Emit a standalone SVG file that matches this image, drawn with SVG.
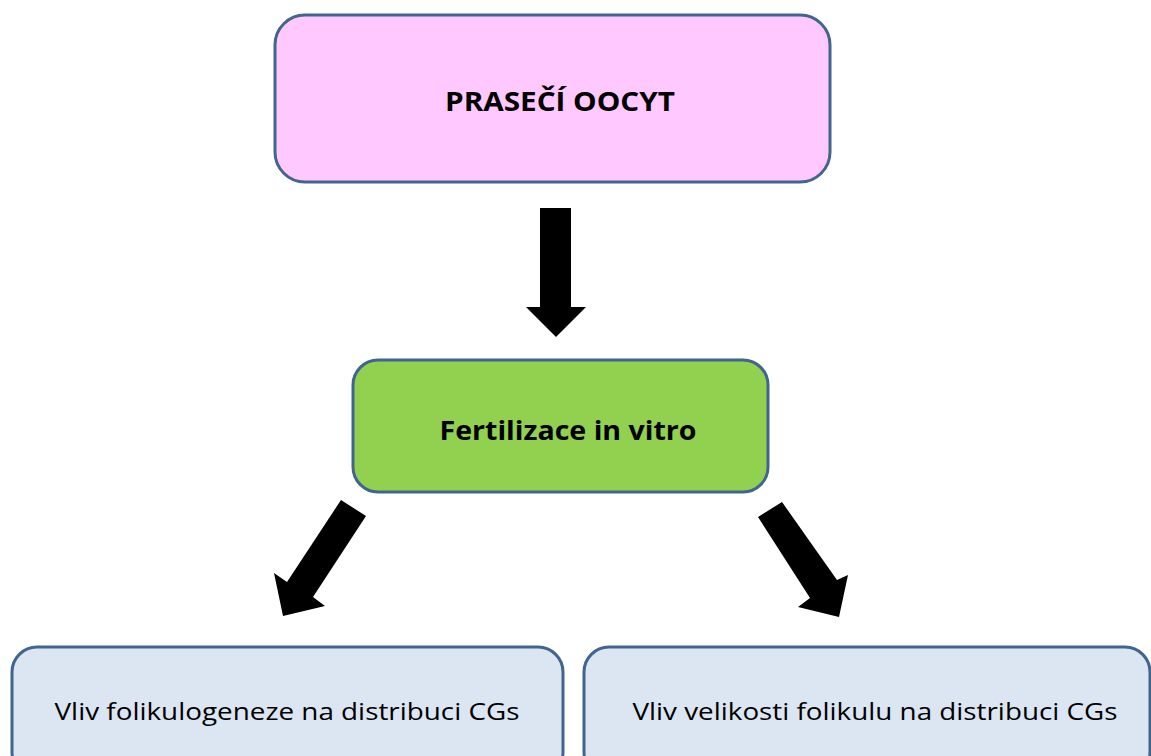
<svg xmlns="http://www.w3.org/2000/svg" width="1151" height="756" viewBox="0 0 1151 756">
<style>
.box{stroke:#41658f;stroke-width:3}
.lbl{font-family:"Open Sans","Liberation Sans",sans-serif;fill:#000;text-anchor:middle}
.b{font-weight:bold}
.arr{fill:#000}
</style>
<rect width="1151" height="756" fill="#fff"/>
<g id="connectors">
<polygon class="arr" points="540,208 571,208 571,307 586,307 556,337 526,307 540,307"/>
<polygon class="arr" points="341,500 366,516 313,597 325,606 283,616 274,573 287,582"/>
<polygon class="arr" points="758,517 782,502 837,580 848,575 839,617 798,607 810,598"/>
</g>
<g id="node-oocyt">
<rect class="box" x="275" y="15" width="555" height="167" rx="30" fill="#ffc9ff"/>
<text class="lbl b" x="560" y="111" font-size="27" textLength="230" lengthAdjust="spacingAndGlyphs">PRASEČÍ OOCYT</text>
</g>
<g id="node-ivf">
<rect class="box" x="353" y="360" width="415" height="132" rx="25" fill="#92d050"/>
<text class="lbl b" x="568" y="440" font-size="27" textLength="257" lengthAdjust="spacingAndGlyphs">Fertilizace in vitro</text>
</g>
<g id="node-left">
<rect class="box" x="12" y="647" width="551" height="130" rx="25" fill="#dce6f2"/>
<text class="lbl" x="287" y="720" font-size="23" textLength="465" lengthAdjust="spacingAndGlyphs">Vliv folikulogeneze na distribuci CGs</text>
</g>
<g id="node-right">
<rect class="box" x="584" y="647" width="566" height="130" rx="25" fill="#dce6f2"/>
<text class="lbl" x="875" y="720" font-size="23" textLength="485" lengthAdjust="spacingAndGlyphs">Vliv velikosti folikulu na distribuci CGs</text>
</g>
</svg>
